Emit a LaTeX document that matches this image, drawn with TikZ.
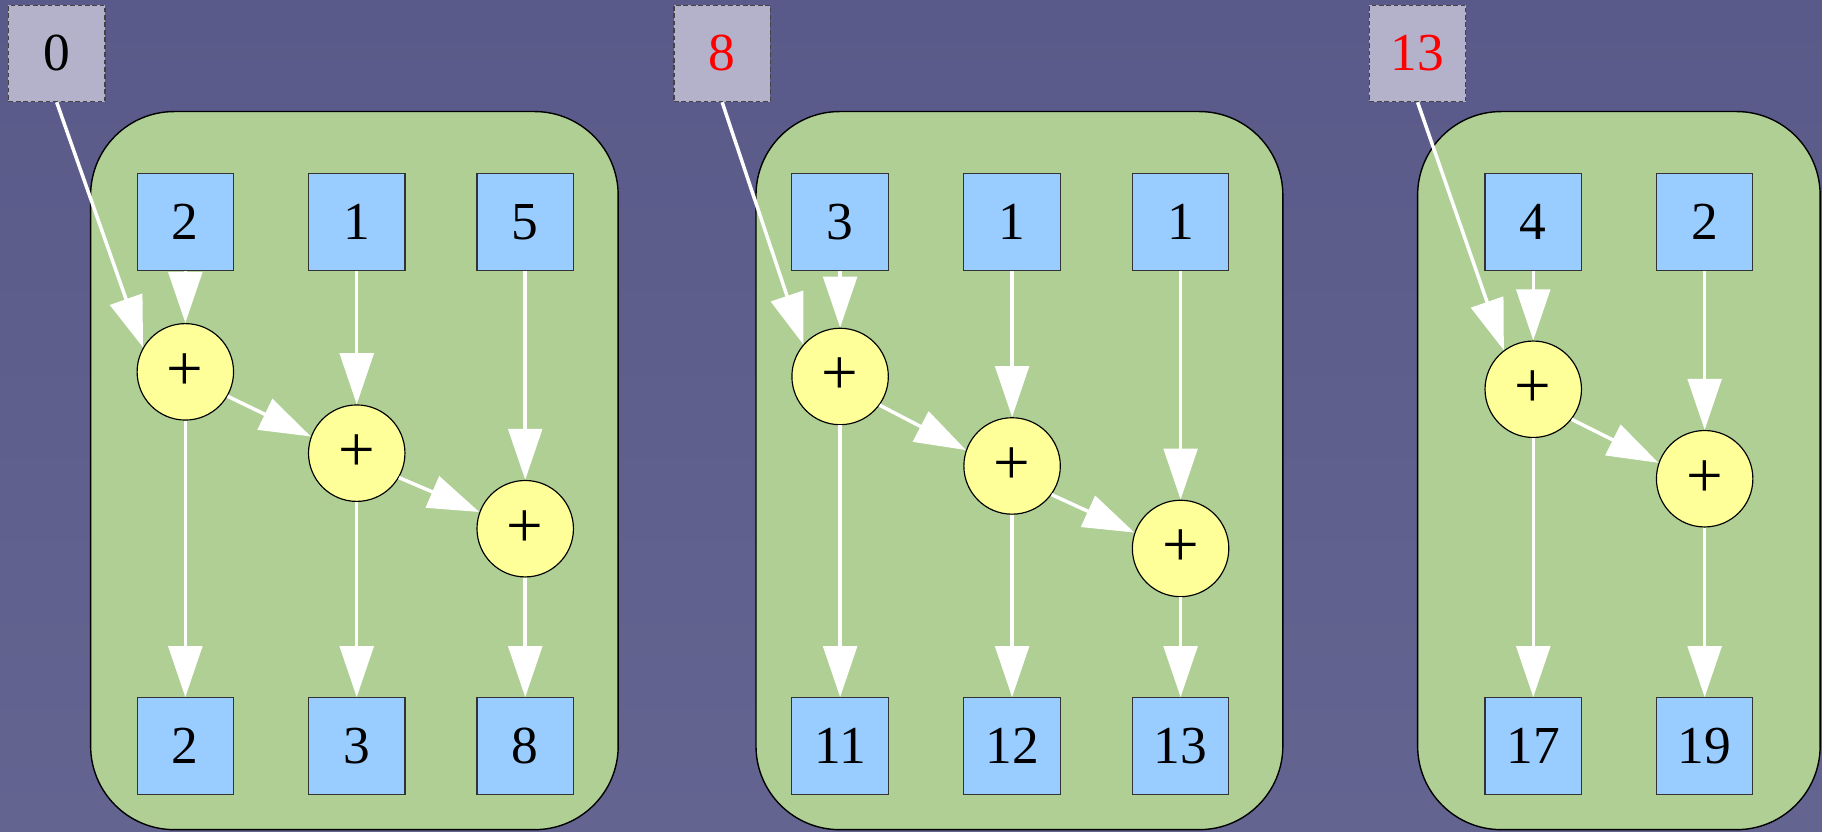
\documentclass[tikz,border=0pt]{standalone}
\usepackage{fontspec}
\setmainfont{Liberation Serif}
\usetikzlibrary{arrows.meta}
\definecolor{bgtop}{HTML}{5A5A8A}
\definecolor{bgbot}{HTML}{646491}
\definecolor{clus}{HTML}{AFCF95}
\definecolor{boxc}{HTML}{99CCFF}
\definecolor{addc}{HTML}{FFFF99}
\definecolor{grayc}{HTML}{B4B1CA}
\definecolor{darkline}{HTML}{333333}
\definecolor{dashline}{HTML}{444444}
\tikzset{
  cluster/.style={draw=black, line width=0.6pt, fill=clus, rounded corners=36pt, minimum height=309pt, inner sep=0pt},
  valbox/.style={draw=darkline, line width=0.5pt, fill=boxc, minimum width=41.5pt, minimum height=41.5pt, inner sep=0pt, font=\fontsize{23}{27}\selectfont},
  carrybox/.style={draw=dashline, dash pattern=on 2pt off 1.2pt, line width=0.5pt, fill=grayc, minimum width=41.5pt, minimum height=41.5pt, inner sep=0pt, font=\fontsize{23}{27}\selectfont},
  adder/.style={circle, draw=black, line width=0.5pt, fill=addc, minimum size=41.5pt, inner sep=0pt, font=\fontsize{28}{32}\selectfont},
  edge/.style={draw=white, line width=1.5pt, -{Triangle[length=22pt,width=14.5pt]}}
}
\begin{document}
\begin{tikzpicture}[x=0.5pt,y=-0.5pt]
\useasboundingbox (0,0) rectangle (1568,716);
\shade[top color=bgtop, bottom color=bgbot] (0,0) rectangle (1568,716);
% clusters
\node[cluster, minimum width=227pt] (k1) at (305,405) {};
\node[cluster, minimum width=226.7pt] (k2) at (877.3,405) {};
\node[cluster, minimum width=173.2pt] (k3) at (1393.2,405) {};
% carry-in boxes
\node[carrybox] (g1) at (48.8,46) {0};
\node[carrybox, text=red] (g2) at (621.5,46) {8};
\node[carrybox, text=red] (g3) at (1220,46) {13};
% cluster 1
\node[valbox] (a11) at (159.5,191) {2};
\node[valbox] (a12) at (307,191) {1};
\node[valbox] (a13) at (452,191) {5};
\node[adder] (p11) at (159.5,320) {+};
\node[adder] (p12) at (307,390) {+};
\node[adder] (p13) at (452,455) {+};
\node[valbox] (b11) at (159.5,642) {2};
\node[valbox] (b12) at (307,642) {3};
\node[valbox] (b13) at (452,642) {8};
% cluster 2
\node[valbox] (a21) at (723,191) {3};
\node[valbox] (a22) at (871,191) {1};
\node[valbox] (a23) at (1016,191) {1};
\node[adder] (p21) at (723,324) {+};
\node[adder] (p22) at (871,401) {+};
\node[adder] (p23) at (1016,472) {+};
\node[valbox] (b21) at (723,642) {11};
\node[valbox] (b22) at (871,642) {12};
\node[valbox] (b23) at (1016,642) {13};
% cluster 3
\node[valbox] (a31) at (1319.5,191) {4};
\node[valbox] (a32) at (1467,191) {2};
\node[adder] (p31) at (1319.5,335) {+};
\node[adder] (p32) at (1467,412) {+};
\node[valbox] (b31) at (1319.5,642) {17};
\node[valbox] (b32) at (1467,642) {19};
% edges cluster 1
\draw[edge] (g1.south) -- (p11.150);
\draw[edge] (a11.south) -- (p11.north);
\draw[edge] (a12.south) -- (p12.north);
\draw[edge] (a13.south) -- (p13.north);
\draw[edge] (p11.-30) -- (p12.160);
\draw[edge] (p12.-30) -- (p13.160);
\draw[edge] (p11.south) -- (b11.north);
\draw[edge] (p12.south) -- (b12.north);
\draw[edge] (p13.south) -- (b13.north);
% edges cluster 2
\draw[edge] (g2.south) -- (p21.139);
\draw[edge] (a21.south) -- (p21.north);
\draw[edge] (a22.south) -- (p22.north);
\draw[edge] (a23.south) -- (p23.north);
\draw[edge] (p21.-36) -- (p22.161);
\draw[edge] (p22.-36) -- (p23.161);
\draw[edge] (p21.south) -- (b21.north);
\draw[edge] (p22.south) -- (b22.north);
\draw[edge] (p23.south) -- (b23.north);
% edges cluster 3
\draw[edge] (g3.south) -- (p31.127);
\draw[edge] (a31.south) -- (p31.north);
\draw[edge] (a32.south) -- (p32.north);
\draw[edge] (p31.-38) -- (p32.161);
\draw[edge] (p31.south) -- (b31.north);
\draw[edge] (p32.south) -- (b32.north);
\end{tikzpicture}
\end{document}
